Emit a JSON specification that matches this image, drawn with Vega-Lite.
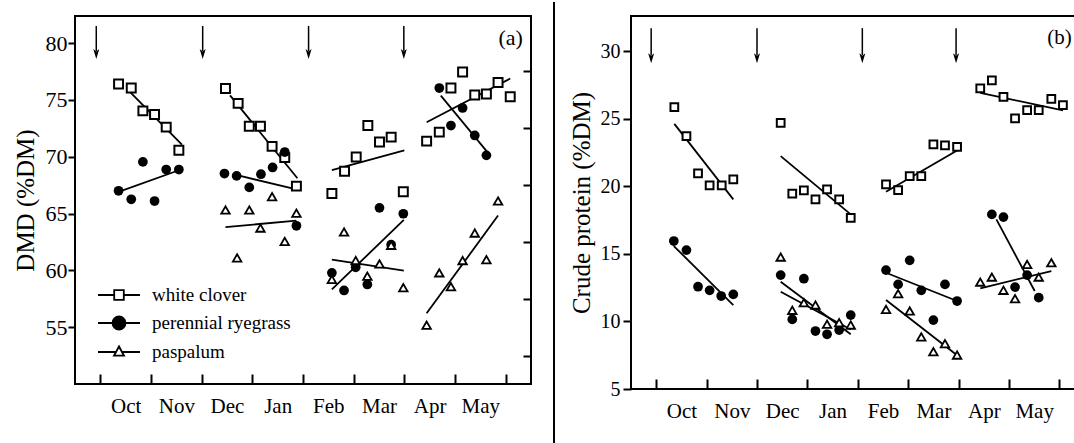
{
  "$schema": "https://vega.github.io/schema/vega-lite/v6.json",
  "padding": {"left": 13, "top": 0, "right": 0, "bottom": 0},
  "background": "white",
  "spacing": 14,
  "config": {
    "font": "Liberation Serif",
    "view": {"stroke": null},
    "axis": {"domain": false, "labelFont": "Liberation Serif", "titleFont": "Liberation Serif", "labelColor": "black", "titleColor": "black", "titleFontWeight": "normal", "tickColor": "black", "tickWidth": 2, "grid": false, "labelFontSize": 22, "titleFontSize": 25},
    "text": {"font": "Liberation Serif", "color": "black"}
  },
  "datasets": {
    "dmd_points": [
      {"s":"wc","m":0.36,"v":76.39},{"s":"wc","m":0.61,"v":76.04},{"s":"wc","m":0.84,"v":74.03},{"s":"wc","m":1.07,"v":73.71},{"s":"wc","m":1.30,"v":72.6},{"s":"wc","m":1.55,"v":70.56},
      {"s":"wc","m":2.47,"v":76.0},{"s":"wc","m":2.72,"v":74.69},{"s":"wc","m":2.94,"v":72.68},{"s":"wc","m":3.16,"v":72.68},{"s":"wc","m":3.39,"v":70.91},{"s":"wc","m":3.64,"v":69.92},{"s":"wc","m":3.87,"v":67.41},
      {"s":"wc","m":4.57,"v":66.77},{"s":"wc","m":4.82,"v":68.72},{"s":"wc","m":5.05,"v":69.97},{"s":"wc","m":5.28,"v":72.74},{"s":"wc","m":5.51,"v":71.29},{"s":"wc","m":5.74,"v":71.72},{"s":"wc","m":5.98,"v":66.91},
      {"s":"wc","m":6.44,"v":71.37},{"s":"wc","m":6.69,"v":72.16},{"s":"wc","m":6.92,"v":76.04},{"s":"wc","m":7.15,"v":77.46},{"s":"wc","m":7.39,"v":75.43},{"s":"wc","m":7.62,"v":75.52},{"s":"wc","m":7.85,"v":76.53},{"s":"wc","m":8.09,"v":75.28},
      {"s":"pr","m":0.36,"v":67.0},{"s":"pr","m":0.61,"v":66.25},{"s":"pr","m":0.84,"v":69.54},{"s":"pr","m":1.07,"v":66.1},{"s":"pr","m":1.30,"v":68.87},{"s":"pr","m":1.55,"v":68.87},
      {"s":"pr","m":2.45,"v":68.52},{"s":"pr","m":2.69,"v":68.31},{"s":"pr","m":2.94,"v":67.3},{"s":"pr","m":3.17,"v":68.46},{"s":"pr","m":3.40,"v":69.05},{"s":"pr","m":3.64,"v":70.41},{"s":"pr","m":3.87,"v":63.92},
      {"s":"pr","m":4.57,"v":59.78},{"s":"pr","m":4.81,"v":58.23},{"s":"pr","m":5.04,"v":60.27},{"s":"pr","m":5.27,"v":58.76},{"s":"pr","m":5.51,"v":65.5},{"s":"pr","m":5.74,"v":62.26},{"s":"pr","m":5.98,"v":64.98},
      {"s":"pr","m":6.69,"v":76.04},{"s":"pr","m":6.92,"v":72.74},{"s":"pr","m":7.15,"v":74.29},{"s":"pr","m":7.39,"v":71.87},{"s":"pr","m":7.62,"v":70.12},
      {"s":"pa","m":2.47,"v":65.31},{"s":"pa","m":2.70,"v":61.09},{"s":"pa","m":2.94,"v":65.31},{"s":"pa","m":3.16,"v":63.72},{"s":"pa","m":3.39,"v":66.48},{"s":"pa","m":3.64,"v":62.54},{"s":"pa","m":3.87,"v":65.03},
      {"s":"pa","m":4.57,"v":59.2},{"s":"pa","m":4.81,"v":63.37},{"s":"pa","m":5.04,"v":60.86},{"s":"pa","m":5.27,"v":59.49},{"s":"pa","m":5.51,"v":60.57},{"s":"pa","m":5.74,"v":62.2},{"s":"pa","m":5.98,"v":58.47},
      {"s":"pa","m":6.44,"v":55.17},{"s":"pa","m":6.69,"v":59.78},{"s":"pa","m":6.92,"v":58.56},{"s":"pa","m":7.15,"v":60.86},{"s":"pa","m":7.39,"v":63.28},{"s":"pa","m":7.62,"v":60.94},{"s":"pa","m":7.85,"v":66.1}
    ],
    "dmd_fits": [
      {"fit":"wc1","m":0.53,"v":75.95},{"fit":"wc1","m":1.61,"v":71.06},
      {"fit":"pr1","m":0.36,"v":66.91},{"fit":"pr1","m":1.55,"v":68.81},
      {"fit":"wc2","m":2.56,"v":75.4},{"fit":"wc2","m":3.89,"v":68.1},
      {"fit":"pr2","m":2.70,"v":68.37},{"fit":"pr2","m":3.87,"v":67.12},
      {"fit":"pa2","m":2.47,"v":63.8},{"fit":"pa2","m":3.87,"v":64.38},
      {"fit":"wc3","m":4.57,"v":68.81},{"fit":"wc3","m":6.0,"v":70.56},
      {"fit":"pr3","m":4.57,"v":58.32},{"fit":"pr3","m":5.99,"v":64.44},
      {"fit":"pa3","m":4.57,"v":60.94},{"fit":"pa3","m":5.99,"v":59.98},
      {"fit":"wc4","m":6.44,"v":73.03},{"fit":"wc4","m":8.09,"v":76.88},
      {"fit":"pr4","m":6.72,"v":75.37},{"fit":"pr4","m":7.64,"v":70.4},
      {"fit":"pa4","m":6.44,"v":56.22},{"fit":"pa4","m":7.85,"v":64.82}
    ],
    "dmd_arrows": [{"m":-0.08},{"m":2.02},{"m":4.11},{"m":5.99}],
    "cp_points": [
      {"s":"wc","m":0.36,"v":25.86},{"s":"wc","m":0.60,"v":23.71},{"s":"wc","m":0.83,"v":20.95},{"s":"wc","m":1.06,"v":20.07},{"s":"wc","m":1.30,"v":20.07},{"s":"wc","m":1.53,"v":20.51},
      {"s":"wc","m":2.47,"v":24.70},{"s":"wc","m":2.70,"v":19.45},{"s":"wc","m":2.93,"v":19.70},{"s":"wc","m":3.16,"v":19.03},{"s":"wc","m":3.39,"v":19.77},{"s":"wc","m":3.63,"v":19.03},{"s":"wc","m":3.86,"v":17.67},
      {"s":"wc","m":4.56,"v":20.14},{"s":"wc","m":4.80,"v":19.72},{"s":"wc","m":5.03,"v":20.75},{"s":"wc","m":5.26,"v":20.75},{"s":"wc","m":5.50,"v":23.1},{"s":"wc","m":5.73,"v":23.02},{"s":"wc","m":5.97,"v":22.92},
      {"s":"wc","m":6.43,"v":27.24},{"s":"wc","m":6.66,"v":27.83},{"s":"wc","m":6.89,"v":26.62},{"s":"wc","m":7.12,"v":25.02},{"s":"wc","m":7.36,"v":25.64},{"s":"wc","m":7.59,"v":25.64},{"s":"wc","m":7.84,"v":26.47},{"s":"wc","m":8.07,"v":26.0},
      {"s":"pr","m":0.35,"v":15.95},{"s":"pr","m":0.60,"v":15.28},{"s":"pr","m":0.83,"v":12.57},{"s":"pr","m":1.06,"v":12.3},{"s":"pr","m":1.29,"v":11.88},{"s":"pr","m":1.53,"v":12.0},
      {"s":"pr","m":2.47,"v":13.43},{"s":"pr","m":2.70,"v":10.15},{"s":"pr","m":2.93,"v":13.16},{"s":"pr","m":3.16,"v":9.29},{"s":"pr","m":3.39,"v":9.05},{"s":"pr","m":3.63,"v":9.36},{"s":"pr","m":3.86,"v":10.47},
      {"s":"pr","m":4.56,"v":13.8},{"s":"pr","m":4.80,"v":12.74},{"s":"pr","m":5.03,"v":14.52},{"s":"pr","m":5.26,"v":12.3},{"s":"pr","m":5.50,"v":10.1},{"s":"pr","m":5.73,"v":12.74},{"s":"pr","m":5.97,"v":11.51},
      {"s":"pr","m":6.66,"v":17.92},{"s":"pr","m":6.89,"v":17.72},{"s":"pr","m":7.12,"v":12.54},{"s":"pr","m":7.36,"v":13.43},{"s":"pr","m":7.59,"v":11.76},
      {"s":"pa","m":2.47,"v":14.76},{"s":"pa","m":2.70,"v":10.82},{"s":"pa","m":2.93,"v":11.38},{"s":"pa","m":3.16,"v":11.21},{"s":"pa","m":3.39,"v":9.79},{"s":"pa","m":3.63,"v":9.91},{"s":"pa","m":3.86,"v":9.73},
      {"s":"pa","m":4.56,"v":10.89},{"s":"pa","m":4.80,"v":12.05},{"s":"pa","m":5.03,"v":10.77},{"s":"pa","m":5.26,"v":8.85},{"s":"pa","m":5.50,"v":7.76},{"s":"pa","m":5.73,"v":8.35},{"s":"pa","m":5.97,"v":7.51},
      {"s":"pa","m":6.43,"v":12.91},{"s":"pa","m":6.66,"v":13.28},{"s":"pa","m":6.89,"v":12.3},{"s":"pa","m":7.12,"v":11.68},{"s":"pa","m":7.36,"v":14.22},{"s":"pa","m":7.59,"v":13.28},{"s":"pa","m":7.84,"v":14.34}
    ],
    "cp_fits": [
      {"fit":"wc1","m":0.36,"v":24.62},{"fit":"wc1","m":1.53,"v":19.03},
      {"fit":"pr1","m":0.35,"v":15.58},{"fit":"pr1","m":1.53,"v":11.21},
      {"fit":"wc2","m":2.47,"v":22.23},{"fit":"wc2","m":3.86,"v":17.92},
      {"fit":"pr2","m":2.47,"v":12.94},{"fit":"pr2","m":3.86,"v":9.05},
      {"fit":"pa2","m":2.47,"v":12.2},{"fit":"pa2","m":3.86,"v":9.4},
      {"fit":"wc3","m":4.56,"v":19.6},{"fit":"wc3","m":5.97,"v":22.65},
      {"fit":"pr3","m":4.56,"v":13.6},{"fit":"pr3","m":5.97,"v":11.51},
      {"fit":"pa3","m":4.56,"v":11.58},{"fit":"pa3","m":5.97,"v":7.5},
      {"fit":"wc4","m":6.43,"v":26.92},{"fit":"wc4","m":8.07,"v":25.61},
      {"fit":"pr4","m":6.75,"v":17.55},{"fit":"pr4","m":7.51,"v":12.25},
      {"fit":"pa4","m":6.43,"v":12.45},{"fit":"pa4","m":7.84,"v":13.73}
    ],
    "cp_arrows": [{"m":-0.1},{"m":2.0},{"m":4.09},{"m":5.95}]
  },
  "hconcat": [
    {
      "width": 456,
      "height": 368,
      "layer": [
        {
          "data": {"values": [{}]},
          "mark": {"type": "rule", "color": "black", "strokeWidth": 2, "strokeCap": "square"},
          "encoding": {"x": {"datum": -0.5, "type": "quantitative", "scale": {"domain": [-0.5, 8.5], "nice": false, "zero": false}, "axis": null}}
        },
        {
          "data": {"values": [{}]},
          "mark": {"type": "rule", "color": "black", "strokeWidth": 2, "strokeCap": "square"},
          "encoding": {"x": {"datum": 8.5, "type": "quantitative", "axis": null}}
        },
        {
          "data": {"values": [{}]},
          "mark": {"type": "rule", "color": "black", "strokeWidth": 2, "strokeCap": "square"},
          "encoding": {"y": {"datum": 50, "type": "quantitative", "scale": {"domain": [50, 82.38], "nice": false, "zero": false}, "axis": null}}
        },
        {
          "data": {"values": [{}]},
          "mark": {"type": "rule", "color": "black", "strokeWidth": 2, "strokeCap": "square"},
          "encoding": {"y": {"datum": 82.38, "type": "quantitative", "axis": null}}
        },
        {
          "data": {"name": "dmd_fits"},
          "mark": {"type": "line", "color": "black", "strokeWidth": 1.8},
          "encoding": {
            "detail": {"field": "fit"},
            "x": {"field": "m", "type": "quantitative", "scale": {"domain": [-0.5, 8.5], "nice": false, "zero": false}, "axis": null},
            "y": {"field": "v", "type": "quantitative", "scale": {"domain": [50, 82.38], "nice": false, "zero": false},
                  "axis": {"orient": "right", "values": [52.5, 57.5, 62.5, 67.5, 72.5, 77.5], "tickSize": -8, "labels": false, "title": null}}
          }
        },
        {
          "data": {"name": "dmd_points"},
          "transform": [{"filter": "datum.s === 'wc'"}],
          "mark": {"type": "point", "shape": "square", "size": 80, "filled": true, "fill": "white", "stroke": "black", "strokeWidth": 2, "opacity": 1},
          "encoding": {
            "x": {"field": "m", "type": "quantitative", "scale": {"domain": [-0.5, 8.5], "nice": false, "zero": false},
                  "axis": {"orient": "bottom", "values": [0, 0.5, 1, 1.5, 2, 2.5, 3, 3.5, 4, 4.5, 5, 5.5, 6, 6.5, 7, 7.5, 8], "tickSize": -10,
                           "tickOpacity": {"condition": {"test": "datum.value % 1 === 0", "value": 1}, "value": 0},
                           "labelExpr": "datum.value % 1 === 0 ? '' : ['Oct','Nov','Dec','Jan','Feb','Mar','Apr','May'][floor(datum.value)]",
                           "labelPadding": 21, "labelFontSize": 21, "labelFlush": false, "labelOverlap": false, "title": null}},
            "y": {"field": "v", "type": "quantitative", "scale": {"domain": [50, 82.38], "nice": false, "zero": false},
                  "axis": {"orient": "left", "values": [55, 60, 65, 70, 75, 80], "tickSize": 7, "labelPadding": 1, "title": "DMD (%DM)", "titlePadding": 7}}
          }
        },
        {
          "data": {"name": "dmd_points"},
          "transform": [{"filter": "datum.s === 'pr'"}],
          "mark": {"type": "point", "shape": "circle", "size": 95, "filled": true, "color": "black", "opacity": 1},
          "encoding": {
            "x": {"field": "m", "type": "quantitative", "axis": null},
            "y": {"field": "v", "type": "quantitative", "axis": null}
          }
        },
        {
          "data": {"name": "dmd_points"},
          "transform": [{"filter": "datum.s === 'pa'"}],
          "mark": {"type": "point", "shape": "triangle-up", "size": 72, "filled": true, "fill": "white", "stroke": "black", "strokeWidth": 1.8, "opacity": 1},
          "encoding": {
            "x": {"field": "m", "type": "quantitative", "axis": null},
            "y": {"field": "v", "type": "quantitative", "axis": null}
          }
        },
        {
          "data": {"name": "dmd_arrows"},
          "mark": {"type": "rule", "color": "black", "strokeWidth": 1.5},
          "encoding": {
            "x": {"field": "m", "type": "quantitative", "axis": null},
            "y": {"datum": 81.5, "type": "quantitative", "axis": null},
            "y2": {"datum": 79.3}
          }
        },
        {
          "data": {"name": "dmd_arrows"},
          "mark": {"type": "point", "shape": "M0,1L-0.6,-1L0,-0.5L0.6,-1Z", "size": 100, "filled": true, "color": "black", "opacity": 1},
          "encoding": {
            "x": {"field": "m", "type": "quantitative", "axis": null},
            "y": {"datum": 79.03, "type": "quantitative", "axis": null}
          }
        },
        {
          "data": {"values": [{"label": "(a)"}]},
          "mark": {"type": "text", "fontSize": 22, "align": "right", "baseline": "middle", "color": "black"},
          "encoding": {
            "x": {"datum": 8.34, "type": "quantitative", "axis": null},
            "y": {"datum": 80.44, "type": "quantitative", "axis": null},
            "text": {"field": "label"}
          }
        },
        {
          "data": {"values": [{"series": "white clover"}, {"series": "perennial ryegrass"}, {"series": "paspalum"}]},
          "mark": {"type": "point", "filled": true, "opacity": 0, "stroke": "black", "strokeWidth": 1.8},
          "encoding": {
            "x": {"value": 0},
            "y": {"value": 0},
            "shape": {"field": "series", "type": "nominal",
                      "scale": {"domain": ["white clover", "perennial ryegrass", "paspalum"],
                                "range": ["M-2.1,0H-0.48M0.48,0H2.1M-0.48,-0.48H0.48V0.48H-0.48Z", "M-2.1,0H2.1M-0.65,0A0.65,0.65,0,1,0,0.65,0A0.65,0.65,0,1,0,-0.65,0Z", "M-2.1,0H-0.3M0.3,0H2.1M0,-0.55L-0.5,0.37L0.5,0.37Z"]},
                      "legend": {"orient": "none", "legendX": 33, "legendY": 268, "title": null, "symbolSize": 400, "labelFont": "Liberation Serif", "labelFontSize": 19, "labelColor": "black", "labelOffset": 22, "rowPadding": 7, "symbolStrokeWidth": 1.8, "symbolStrokeColor": "black", "symbolOpacity": 1, "labelLimit": 300, "padding": 0,
                                 "encode": {"symbols": {"update": {"stroke": {"value": "black"}, "strokeWidth": {"value": 1.8}, "opacity": {"value": 1}, "strokeOpacity": {"value": 1}}}}}},
            "fill": {"field": "series", "type": "nominal",
                     "scale": {"domain": ["white clover", "perennial ryegrass", "paspalum"], "range": ["white", "black", "white"]},
                     "legend": {"orient": "none", "legendX": 33, "legendY": 268, "title": null, "symbolSize": 400, "labelFont": "Liberation Serif", "labelFontSize": 19, "labelColor": "black", "labelOffset": 22, "rowPadding": 7, "symbolStrokeWidth": 1.8, "symbolStrokeColor": "black", "symbolOpacity": 1, "labelLimit": 300, "padding": 0,
                                "encode": {"symbols": {"update": {"stroke": {"value": "black"}, "strokeWidth": {"value": 1.8}, "opacity": {"value": 1}, "strokeOpacity": {"value": 1}}}}}}
          }
        }
      ],
      "resolve": {"axis": {"x": "independent", "y": "independent"}}
    },
    {
      "width": 7,
      "height": 428,
      "data": {"values": [{"d": 1, "lo": 0, "hi": 1.033}]},
      "mark": {"type": "rule", "color": "black", "strokeWidth": 2},
      "encoding": {
        "x": {"field": "d", "type": "quantitative", "scale": {"domain": [0, 1], "nice": false, "zero": false}, "axis": null},
        "y": {"field": "lo", "type": "quantitative", "scale": {"domain": [0, 1], "nice": false, "zero": false}, "axis": null},
        "y2": {"field": "hi"}
      }
    },
    {
      "width": 442,
      "height": 373,
      "layer": [
        {
          "data": {"values": [{}]},
          "mark": {"type": "rule", "color": "black", "strokeWidth": 2, "strokeCap": "square"},
          "encoding": {"x": {"datum": -0.5, "type": "quantitative", "scale": {"domain": [-0.5, 8.27], "nice": false, "zero": false}, "axis": null}}
        },
        {
          "data": {"values": [{}]},
          "mark": {"type": "rule", "color": "black", "strokeWidth": 2, "strokeCap": "square"},
          "encoding": {"y": {"datum": 5, "type": "quantitative", "scale": {"domain": [5, 32.6], "nice": false, "zero": false}, "axis": null}}
        },
        {
          "data": {"values": [{}]},
          "mark": {"type": "rule", "color": "black", "strokeWidth": 2, "strokeCap": "square"},
          "encoding": {"y": {"datum": 32.6, "type": "quantitative", "axis": null}}
        },
        {
          "data": {"name": "cp_fits"},
          "mark": {"type": "line", "color": "black", "strokeWidth": 1.8},
          "encoding": {
            "detail": {"field": "fit"},
            "x": {"field": "m", "type": "quantitative", "scale": {"domain": [-0.5, 8.27], "nice": false, "zero": false}, "axis": null},
            "y": {"field": "v", "type": "quantitative", "scale": {"domain": [5, 32.6], "nice": false, "zero": false}, "axis": null}
          }
        },
        {
          "data": {"name": "cp_points"},
          "transform": [{"filter": "datum.s === 'wc'"}],
          "mark": {"type": "point", "shape": "square", "size": 60, "filled": true, "fill": "white", "stroke": "black", "strokeWidth": 2, "opacity": 1},
          "encoding": {
            "x": {"field": "m", "type": "quantitative", "scale": {"domain": [-0.5, 8.27], "nice": false, "zero": false},
                  "axis": {"orient": "bottom", "values": [0, 0.5, 1, 1.5, 2, 2.5, 3, 3.5, 4, 4.5, 5, 5.5, 6, 6.5, 7, 7.5, 8], "tickSize": -10,
                           "tickOpacity": {"condition": {"test": "datum.value % 1 === 0", "value": 1}, "value": 0},
                           "labelExpr": "datum.value % 1 === 0 ? '' : ['Oct','Nov','Dec','Jan','Feb','Mar','Apr','May'][floor(datum.value)]",
                           "labelPadding": 21, "labelFontSize": 21, "labelFlush": false, "labelOverlap": false, "title": null}},
            "y": {"field": "v", "type": "quantitative", "scale": {"domain": [5, 32.6], "nice": false, "zero": false},
                  "axis": {"orient": "left", "values": [5, 10, 15, 20, 25, 30], "tickSize": 8, "labelPadding": 3, "labelFontSize": 20, "title": "Crude protein (%DM)", "titlePadding": 6}}
          }
        },
        {
          "data": {"name": "cp_points"},
          "transform": [{"filter": "datum.s === 'pr'"}],
          "mark": {"type": "point", "shape": "circle", "size": 95, "filled": true, "color": "black", "opacity": 1},
          "encoding": {
            "x": {"field": "m", "type": "quantitative", "axis": null},
            "y": {"field": "v", "type": "quantitative", "axis": null}
          }
        },
        {
          "data": {"name": "cp_points"},
          "transform": [{"filter": "datum.s === 'pa'"}],
          "mark": {"type": "point", "shape": "triangle-up", "size": 72, "filled": true, "fill": "white", "stroke": "black", "strokeWidth": 1.8, "opacity": 1},
          "encoding": {
            "x": {"field": "m", "type": "quantitative", "axis": null},
            "y": {"field": "v", "type": "quantitative", "axis": null}
          }
        },
        {
          "data": {"name": "cp_arrows"},
          "mark": {"type": "rule", "color": "black", "strokeWidth": 1.5},
          "encoding": {
            "x": {"field": "m", "type": "quantitative", "axis": null},
            "y": {"datum": 31.7, "type": "quantitative", "axis": null},
            "y2": {"datum": 29.7}
          }
        },
        {
          "data": {"name": "cp_arrows"},
          "mark": {"type": "point", "shape": "M0,1L-0.6,-1L0,-0.5L0.6,-1Z", "size": 100, "filled": true, "color": "black", "opacity": 1},
          "encoding": {
            "x": {"field": "m", "type": "quantitative", "axis": null},
            "y": {"datum": 29.48, "type": "quantitative", "axis": null}
          }
        },
        {
          "data": {"values": [{"label": "(b)"}]},
          "mark": {"type": "text", "fontSize": 21, "align": "left", "baseline": "middle", "color": "black"},
          "encoding": {
            "x": {"datum": 7.76, "type": "quantitative", "axis": null},
            "y": {"datum": 30.96, "type": "quantitative", "axis": null},
            "text": {"field": "label"}
          }
        }
      ],
      "resolve": {"axis": {"x": "independent", "y": "independent"}}
    }
  ],
  "resolve": {"scale": {"shape": "independent", "fill": "independent"}, "legend": {"shape": "independent", "fill": "independent"}}
}
